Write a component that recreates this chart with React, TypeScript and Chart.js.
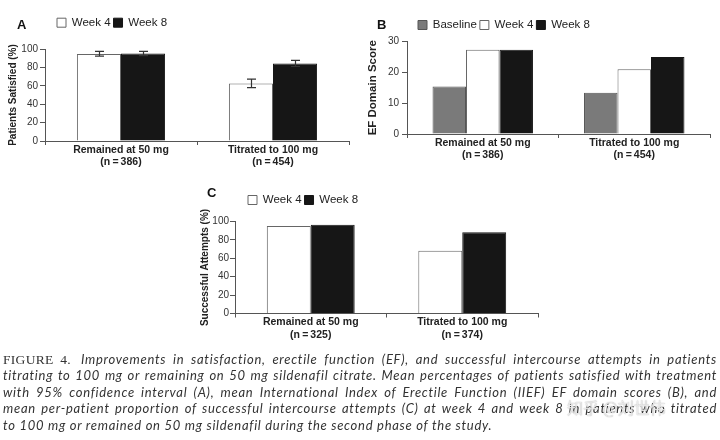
import React, { useEffect, useRef } from "react";
import { Chart, registerables } from "chart.js";

Chart.register(...registerables);
Chart.defaults.font.family = "'Liberation Sans', Arial, sans-serif";

// ---------- data ----------
const groupLabelsAB = [
  ["Remained at 50 mg", "(n\u2009=\u2009386)"],
  ["Titrated to 100 mg", "(n\u2009=\u2009454)"],
];
const groupLabelsC = [
  ["Remained at 50 mg", "(n\u2009=\u2009325)"],
  ["Titrated to 100 mg", "(n\u2009=\u2009374)"],
];

const satisfiedWeek4 = [94.5, 62.5];
const satisfiedWeek8 = [95.0, 84.3];
const satisfiedWeek4Low = [92.3, 58.1];
const satisfiedWeek4High = [97.4, 67.2];
const satisfiedWeek8Low = [92.8, 81.0];
const satisfiedWeek8High = [97.4, 87.6];

const efBaseline = [15.4, 13.4];
const efWeek4 = [27.3, 21.0];
const efWeek8 = [27.3, 25.0];

const attemptsWeek4 = [95.0, 68.3];
const attemptsWeek8 = [96.6, 88.2];

const percentAxis = { max: 100, step: 20 };
const scoreAxis = { max: 30, step: 10 };

const captionLines = [
  "Improvements in satisfaction, erectile function (EF), and successful intercourse attempts in patients",
  "titrating to 100 mg or remaining on 50 mg sildenafil citrate. Mean percentages of patients satisfied with treatment",
  "with 95% confidence interval (A), mean International Index of Erectile Function (IIEF) EF domain scores (B), and",
  "mean per-patient proportion of successful intercourse attempts (C) at week 4 and week 8 in patients who titrated",
  "to 100 mg or remained on 50 mg sildenafil during the second phase of the study.",
];

// ---------- styles ----------
const WHITE = "#ffffff";
const BLACK = "#161616";
const GRAY = "#7a7a7a";
const LEGEND_FONT = 11.5;
const LEGEND_PAD = 3;
const LEGEND_H = LEGEND_PAD * 2 + LEGEND_FONT;

const errorBarPlugin = {
  id: "errorBars",
  afterDatasetsDraw(chart: any) {
    const ctx = chart.ctx;
    const y = chart.scales.y;
    chart.data.datasets.forEach((ds: any, i: number) => {
      if (!ds.errLow) return;
      const meta = chart.getDatasetMeta(i);
      meta.data.forEach((bar: any, j: number) => {
        const x = Math.round(bar.x) + 0.5;
        const yl = y.getPixelForValue(ds.errLow[j]);
        const yh = y.getPixelForValue(ds.errHigh[j]);
        ctx.save();
        ctx.strokeStyle = "#333";
        ctx.lineWidth = 1.2;
        ctx.beginPath();
        ctx.moveTo(x, yl);
        ctx.lineTo(x, yh);
        ctx.moveTo(x - 4.5, yh);
        ctx.lineTo(x + 4.5, yh);
        ctx.moveTo(x - 4.5, yl);
        ctx.lineTo(x + 4.5, yl);
        ctx.stroke();
        ctx.restore();
      });
    });
  },
};

const legendPlacer = {
  id: "legendPlacer",
  afterLayout(chart: any, _args: any, opts: any) {
    const lg = chart.legend;
    if (!lg || !opts || opts.x == null) return;
    lg.left = opts.x - LEGEND_PAD;
    lg.right = lg.left + 1000;
    lg.top = opts.y - LEGEND_PAD - LEGEND_FONT / 2;
    lg.bottom = lg.top + LEGEND_H;
  },
};

type PanelCfg = {
  labels: string[][];
  datasets: any[];
  yMax: number;
  yStep: number;
  yTitle: string;
  yTitleSize: number;
  yWidth: number;
  yTitlePad: number;
  xHeight: number;
  areaTop: number;
  padRight: number;
  groupPct: number;
  legendX: number;
  legendY: number;
  tickPad: number;
};

function makeConfig(p: PanelCfg): any {
  return {
    type: "bar",
    data: { labels: p.labels, datasets: p.datasets },
    options: {
      responsive: false,
      animation: false,
      layout: { padding: { left: 0, top: p.areaTop - LEGEND_H, right: p.padRight, bottom: 0 } },
      datasets: { bar: { categoryPercentage: p.groupPct, barPercentage: 1 } },
      plugins: {
        legend: {
          position: "top",
          align: "start",
          labels: {
            boxWidth: 9,
            boxHeight: 9,
            padding: LEGEND_PAD,
            color: "#222",
            font: { size: LEGEND_FONT },
          },
        },
        tooltip: { enabled: false },
        legendPlacer: { x: p.legendX, y: p.legendY },
      },
      scales: {
        x: {
          offset: true,
          grid: { display: true, drawOnChartArea: false, tickLength: 4, color: "#555", offset: true },
          border: { color: "#555" },
          ticks: {
            font: { size: 10.5, weight: "bold", lineHeight: 1.19 },
            color: "#222",
            padding: -1.2,
            maxRotation: 0,
            autoSkip: false,
          },
          afterFit: (s: any) => {
            s.height = p.xHeight;
          },
        },
        y: {
          min: 0,
          max: p.yMax,
          ticks: { stepSize: p.yStep, font: { size: 10 }, color: "#333", padding: p.tickPad },
          grid: { drawOnChartArea: false, tickLength: 5, color: "#555" },
          border: { color: "#555" },
          title: {
            display: true,
            text: p.yTitle,
            color: "#222",
            font: { size: p.yTitleSize, weight: "bold" },
            padding: { top: p.yTitlePad, bottom: 0 },
          },
          afterFit: (s: any) => {
            s.width = p.yWidth;
          },
        },
      },
    },
    plugins: [errorBarPlugin, legendPlacer],
  };
}

function ChartPanel(props: { left: number; top: number; width: number; height: number; cfg: PanelCfg }) {
  const ref = useRef<HTMLCanvasElement>(null);
  useEffect(() => {
    const chart = new Chart(ref.current as HTMLCanvasElement, makeConfig(props.cfg));
    return () => chart.destroy();
  }, []);
  return (
    <canvas
      ref={ref}
      width={props.width}
      height={props.height}
      style={{ position: "absolute", left: props.left, top: props.top, width: props.width, height: props.height }}
    />
  );
}

const panelA: PanelCfg = {
  labels: groupLabelsAB,
  datasets: [
    {
      label: "Week 4",
      data: satisfiedWeek4,
      backgroundColor: WHITE,
      borderColor: "#666",
      borderWidth: 1,
      errLow: satisfiedWeek4Low,
      errHigh: satisfiedWeek4High,
    },
    {
      label: "Week 8",
      data: satisfiedWeek8,
      backgroundColor: BLACK,
      borderColor: BLACK,
      borderWidth: 1,
      errLow: satisfiedWeek8Low,
      errHigh: satisfiedWeek8High,
    },
  ],
  yMax: percentAxis.max,
  yStep: percentAxis.step,
  yTitle: "Patients Satisfied (%)",
  yTitleSize: 10,
  yWidth: 45,
  yTitlePad: 7.5,
  xHeight: 37,
  areaTop: 42,
  padRight: 7,
  groupPct: 0.58,
  legendX: 57,
  legendY: 22.7,
  tickPad: 2,
};

const panelB: PanelCfg = {
  labels: groupLabelsAB,
  datasets: [
    { label: "Baseline", data: efBaseline, backgroundColor: GRAY, borderColor: "#555", borderWidth: 1 },
    { label: "Week 4", data: efWeek4, backgroundColor: WHITE, borderColor: "#666", borderWidth: 1 },
    { label: "Week 8", data: efWeek8, backgroundColor: BLACK, borderColor: BLACK, borderWidth: 1 },
  ],
  yMax: scoreAxis.max,
  yStep: scoreAxis.step,
  yTitle: "EF Domain Score",
  yTitleSize: 11.5,
  yWidth: 47,
  yTitlePad: 6,
  xHeight: 44,
  areaTop: 34.5,
  padRight: 10,
  groupPct: 0.663,
  legendX: 58,
  legendY: 25,
  tickPad: 3,
};

const panelC: PanelCfg = {
  labels: groupLabelsC,
  datasets: [
    { label: "Week 4", data: attemptsWeek4, backgroundColor: WHITE, borderColor: "#666", borderWidth: 1 },
    { label: "Week 8", data: attemptsWeek8, backgroundColor: BLACK, borderColor: BLACK, borderWidth: 1 },
  ],
  yMax: percentAxis.max,
  yStep: percentAxis.step,
  yTitle: "Successful Attempts (%)",
  yTitleSize: 10,
  yWidth: 55,
  yTitlePad: 19,
  xHeight: 41.5,
  areaTop: 34.5,
  padRight: 2,
  groupPct: 0.58,
  legendX: 68,
  legendY: 20,
  tickPad: 1,
};

const letterStyle: React.CSSProperties = {
  position: "absolute",
  fontFamily: "'Liberation Sans', Arial, sans-serif",
  fontWeight: "bold",
  fontSize: 13,
  lineHeight: "13px",
  color: "#111",
};

const captionFont = "Lato, 'Open Sans', sans-serif";

export default function App() {
  return (
    <div
      style={{
        position: "absolute",
        left: 0,
        top: 0,
        width: 720,
        height: 440,
        background: "#fff",
        overflow: "hidden",
      }}
    >
      <ChartPanel left={0} top={0} width={356} height={178} cfg={panelA} />
      <ChartPanel left={360} top={0} width={360} height={178} cfg={panelB} />
      <ChartPanel left={180} top={180} width={360} height={175} cfg={panelC} />
      <div style={{ ...letterStyle, left: 17, top: 18 }}>A</div>
      <div style={{ ...letterStyle, left: 377, top: 18 }}>B</div>
      <div style={{ ...letterStyle, left: 207, top: 186 }}>C</div>
      {captionLines.map((line, i) => (
        <div
          key={i}
          style={{
            position: "absolute",
            left: 3,
            width: 714,
            top: 352 + i * 16.4,
            fontFamily: captionFont,
            fontStyle: "italic",
            fontSize: 13,
            letterSpacing: "0.72px",
            lineHeight: "14px",
            color: "#333",
            whiteSpace: "nowrap",
            textAlign: i < 4 ? "justify" : "left",
            textAlignLast: i < 4 ? "justify" : "left",
          } as React.CSSProperties}
        >
          {i === 0 ? (
            <span
              style={{
                fontFamily: "'Liberation Serif', 'DejaVu Serif', serif",
                fontStyle: "normal",
                fontSize: 13.5,
                letterSpacing: "0.3px",
                marginRight: 10,
              }}
            >
              FIGURE 4.
            </span>
          ) : null}
          {line}
        </div>
      ))}
      <div
        style={{
          position: "absolute",
          left: 567,
          top: 398,
          fontFamily: "'Noto Sans CJK SC', sans-serif",
          fontSize: 16,
          lineHeight: "18px",
          color: "rgba(255,255,255,0.75)",
          textShadow: "0 0 1px rgba(120,120,120,0.8)",
          whiteSpace: "nowrap",
        }}
      >
        知乎 @刘世伟
      </div>
    </div>
  );
}
